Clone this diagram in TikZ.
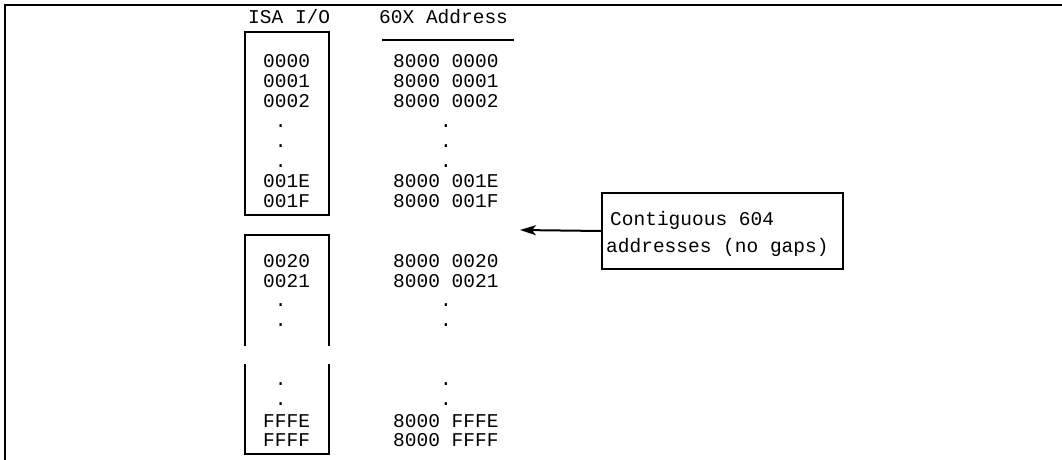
\documentclass[tikz,border=0pt]{standalone}
\usepackage{fontspec}
\setmonofont{Liberation Mono}
\usetikzlibrary{arrows.meta}
\newcommand{\addrfont}{\ttfamily\fontsize{19.5}{20}\selectfont}
\tikzset{
  cell/.style={font=\addrfont, anchor=base west, inner sep=0pt},
  boxline/.style={line width=2pt},
  frameline/.style={line width=2.5pt},
}
\begin{document}
\begin{tikzpicture}[x=1pt,y=-1pt]
\useasboundingbox (0,0) rectangle (1062,460);
% outer frame (top and left edges)
\draw[frameline] (5,460) -- (5,5) -- (1062,5);
% titles
\node[cell] (t1) at (248,24) {ISA I/O};
\node[cell] (t2) at (379,24) {60X Address};
\draw[boxline] (382,40) -- (514,40);
% box 1
\draw[boxline] (245,32) rectangle (329,215);
\foreach \t/\r/\y [count=\i] in {0000/8000 0000/67, 0001/8000 0001/87, 0002/8000 0002/107,
  \hphantom{0}./\hphantom{0000}./127, \hphantom{0}./\hphantom{0000}./147, \hphantom{0}./\hphantom{0000}./167,
  001E/8000 001E/187, 001F/8000 001F/207}{
  \node[cell] (a\i) at (263,\y) {\t};
  \node[cell] (b\i) at (393,\y) {\r};
}
% box 2 (open bottom)
\draw[boxline] (245,346) -- (245,235) -- (329,235) -- (329,346);
\foreach \t/\r/\y [count=\i] in {0020/8000 0020/267, 0021/8000 0021/287,
  \hphantom{0}./\hphantom{0000}./306, \hphantom{0}./\hphantom{0000}./326}{
  \node[cell] (c\i) at (263,\y) {\t};
  \node[cell] (d\i) at (393,\y) {\r};
}
% box 3 (open top)
\draw[boxline] (245,364) -- (245,454) -- (329,454) -- (329,364);
\foreach \t/\r/\y [count=\i] in {\hphantom{0}./\hphantom{0000}./385, \hphantom{0}./\hphantom{0000}./405,
  FFFE/8000 FFFE/427, FFFF/8000 FFFF/446}{
  \node[cell] (e\i) at (263,\y) {\t};
  \node[cell] (f\i) at (393,\y) {\r};
}
% callout
\node[draw, boxline, anchor=north west, minimum width=241pt, minimum height=76pt, inner sep=0pt] (note) at (601,192) {};
\node[cell] (n1) at (610,225) {Contiguous 604};
\node[cell] (n2) at (606,252) {addresses (no gaps)};
\coordinate (tip) at (520,230);
\draw[boxline, -{Stealth[length=16pt,width=10pt,inset=4pt]}] (note.west) -- (tip);
\end{tikzpicture}
\end{document}
